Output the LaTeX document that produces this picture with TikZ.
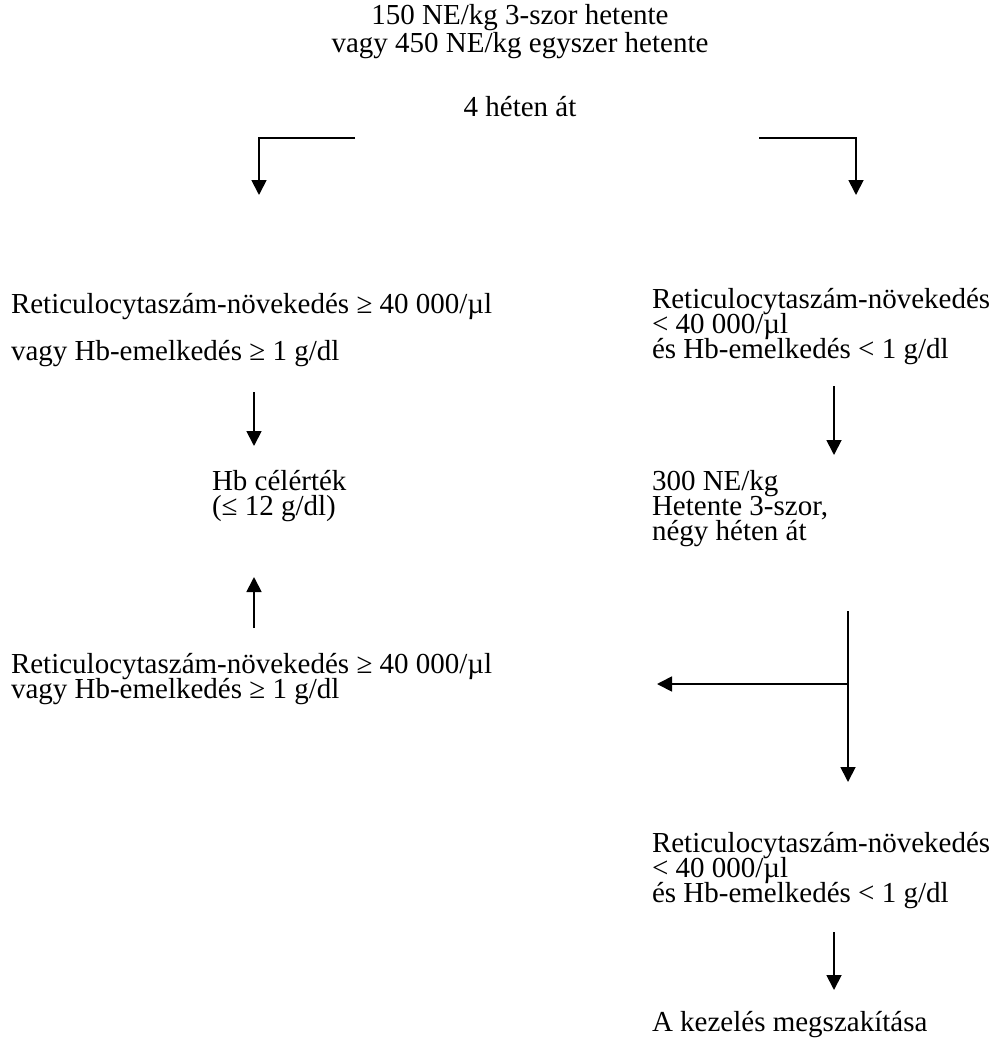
\documentclass[tikz,border=0pt]{standalone}
\usepackage{fontspec}
\setmainfont{Liberation Serif}
\usetikzlibrary{arrows.meta}
\begin{document}
\begin{tikzpicture}[x=1pt,y=-1pt,
  txt/.style={inner sep=0pt, outer sep=0pt, text height=19pt, text depth=5pt,
    font=\fontsize{29}{26}\selectfont},
  lt/.style={txt, anchor=base west},
  ct/.style={txt, anchor=base},
  ln/.style={line width=1.8pt},
  arr/.style={ln, -{Triangle[length=15pt,width=15pt]}}]
\useasboundingbox (0,0) rectangle (999,1055);
% texts
\node[ct] (t1) at (520,24) {150 NE/kg 3-szor hetente};
\node[ct] (t2) at (520,52) {vagy 450 NE/kg egyszer hetente};
\node[ct] (t3) at (520,116) {4 héten át};
\node[lt] (l1a) at (11,313) {Reticulocytaszám-növekedés ≥ 40 000/µl};
\node[lt] (l1b) at (11,360) {vagy Hb-emelkedés ≥ 1 g/dl};
\node[lt] (r1a) at (652,308) {Reticulocytaszám-növekedés};
\node[lt] (r1b) at (652,333) {< 40 000/µl};
\node[lt] (r1c) at (652,358) {és Hb-emelkedés < 1 g/dl};
\node[lt] (hb1) at (212,490) {Hb célérték};
\node[lt] (hb2) at (212,515) {(≤ 12 g/dl)};
\node[lt] (d1) at (652,490) {300 NE/kg};
\node[lt] (d2) at (652,515) {Hetente 3-szor,};
\node[lt] (d3) at (652,540) {négy héten át};
\node[lt] (l2a) at (11,673) {Reticulocytaszám-növekedés ≥ 40 000/µl};
\node[lt] (l2b) at (11,698) {vagy Hb-emelkedés ≥ 1 g/dl};
\node[lt] (r2a) at (652,852) {Reticulocytaszám-növekedés};
\node[lt] (r2b) at (652,877) {< 40 000/µl};
\node[lt] (r2c) at (652,902) {és Hb-emelkedés < 1 g/dl};
\node[lt] (stop) at (652,1031) {A kezelés megszakítása};
% connector points
\coordinate (bl0) at (355,138);
\coordinate (bl1) at (259,138);
\coordinate (bl2) at (259,195);
\coordinate (br0) at (759,138);
\coordinate (br1) at (856,138);
\coordinate (br2) at (856,195);
\coordinate (la0) at (254,392);
\coordinate (la1) at (254,446);
\coordinate (ua0) at (254,628);
\coordinate (ua1) at (254,577);
\coordinate (ra0) at (834,386);
\coordinate (ra1) at (834,455);
\coordinate (tv0) at (848,611);
\coordinate (tv1) at (848,684);
\coordinate (tv2) at (848,782);
\coordinate (th) at (657,684);
\coordinate (ba0) at (834,932);
\coordinate (ba1) at (834,990);
% connectors
\draw[arr] (bl0) -- (bl1) -- (bl2);
\draw[arr] (br0) -- (br1) -- (br2);
\draw[arr] (la0) -- (la1);
\draw[arr] (ua0) -- (ua1);
\draw[arr] (ra0) -- (ra1);
\draw[ln] (tv0) -- (tv1);
\draw[arr] (tv1) -- (tv2);
\draw[arr] (tv1) -- (th);
\draw[arr] (ba0) -- (ba1);
\end{tikzpicture}
\end{document}
